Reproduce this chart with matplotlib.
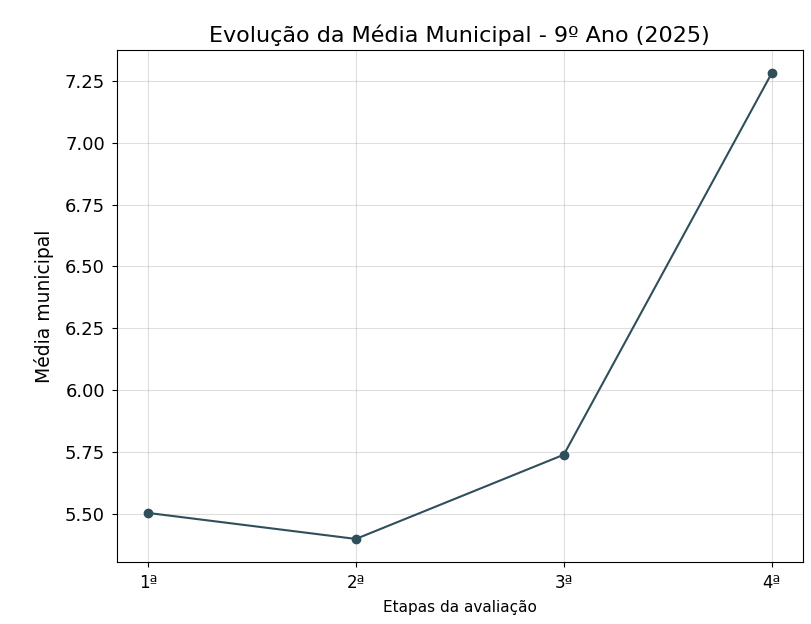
import matplotlib
matplotlib.use("Agg")
import matplotlib.pyplot as plt

etapas = ["1ª", "2ª", "3ª", "4ª"]
medias = [5.505, 5.40, 5.74, 7.28]

fig = plt.figure(figsize=(8.11, 6.24), dpi=100)
ax = fig.add_axes([0.144, 0.099, 0.846, 0.821])
ax.plot(range(len(etapas)), medias, marker="o", color="#2f4f5a", linewidth=1.5, markersize=6)
ax.set_xticks(range(len(etapas)))
ax.set_xticklabels(etapas)
ax.tick_params(axis="x", labelsize=12, pad=5)
ax.tick_params(axis="y", labelsize=13, pad=5)
ax.set_title("Evolução da Média Municipal - 9º Ano (2025)", fontsize=16)
ax.set_xlabel("Etapas da avaliação", fontsize=11, labelpad=6)
ax.set_ylabel("Média municipal", fontsize=13.5, labelpad=8)
ax.grid(True, alpha=0.4)
fig.savefig("out.png", dpi=100)
